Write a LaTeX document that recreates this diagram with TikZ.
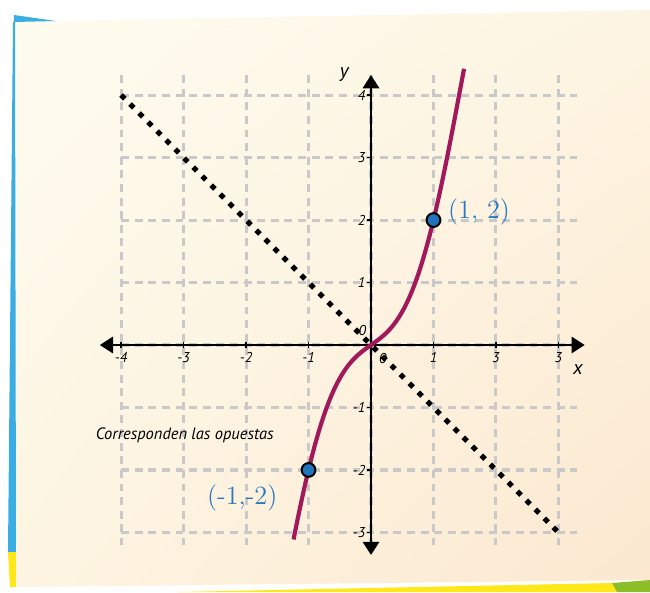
\documentclass[tikz,border=0pt]{standalone}
\usepackage{fontspec}
\setsansfont{PT Sans}
\usetikzlibrary{arrows.meta, shadings}

\definecolor{paperlight}{HTML}{FEFCF0}
\definecolor{papermid}{HTML}{FDF5E2}
\definecolor{paperdark}{HTML}{FCE8D0}
\definecolor{edgeblue}{HTML}{3AAEE2}
\definecolor{edgeyellow}{HTML}{FFE81A}
\definecolor{edgegreen}{HTML}{8DBE2A}
\definecolor{gridgray}{HTML}{C9C9C9}
\definecolor{curvered}{HTML}{A2195B}
\definecolor{pointblue}{HTML}{1F74BA}
\definecolor{labelblue}{HTML}{2A78C0}

\tikzset{
  grid line/.style={draw=gridgray, line width=1.4pt, dash pattern=on 3.6pt off 2.6pt},
  axis line/.style={line width=0.9pt, {Triangle[width=7.5pt,length=6pt]}-{Triangle[width=7.5pt,length=6pt]}},
  tick label/.style={font=\sffamily\itshape\fontsize{6.5}{7}\selectfont, inner sep=1pt},
  axis label/.style={font=\sffamily\itshape\fontsize{9}{10}\selectfont, inner sep=0pt},
  dot point/.style={circle, draw=black, fill=pointblue, line width=0.9pt, minimum size=0.22cm, inner sep=0pt},
  point label/.style={text=labelblue, font=\fontsize{12}{14}\selectfont, inner sep=0pt}
}

\begin{document}
\begin{tikzpicture}
    % Paper background (pixel coordinates)
    \begin{scope}[x=0.016cm, y=-0.016cm, shift={(-371,-345)}]
        \useasboundingbox (0,0) rectangle (650,592);
        \fill[white] (0,0) rectangle (650,592);
        \shade[upper left=paperlight, upper right=papermid, lower left=papermid, lower right=paperdark]
            (14,22) -- (56,21) -- (650,10) -- (650,580) -- (16,587) -- cycle;
        \fill[edgeblue] (14,15) -- (56,21) -- (14,22) -- cycle; % top corner
        \fill[edgeblue] (13,22) -- (15,22) -- (16,552) -- (8,552) -- cycle; % left strip
        \fill[edgeyellow] (8,552) -- (16,552) -- (16,587) -- (10,587) -- cycle;
        \fill[edgeyellow] (178,592) -- (612,583) -- (617,592) -- cycle; % bottom strip
        \fill[edgegreen] (612,583) -- (650,580) -- (650,592) -- (617,592) -- cycle;
    \end{scope}

    % Dashed grid
    \foreach \i in {-4,...,3} {
        \draw[grid line] (\i,4.32) -- (\i,-3.2);
    }
    \foreach \j in {-3,...,4} {
        \draw[grid line] (-4,\j) -- (3.3,\j);
    }

    % Axes
    \coordinate (xL) at (-4.34,0);
    \coordinate (xR) at (3.42,0);
    \coordinate (yB) at (0,-3.36);
    \coordinate (yT) at (0,4.32);
    \draw[axis line] (xL) -- (xR);
    \draw[axis line] (yB) -- (yT);

    % Ticks and labels
    \foreach \i/\t in {-4/-4,-3/-3,-2/-2,-1/-1,1/1,2/3,3/3} {
        \draw[line width=0.6pt] (\i,0.05) -- (\i,-0.05);
        \node[tick label, anchor=north] (xt\i) at (\i,-0.08) {\t};
    }
    \foreach \j in {-3,-2,-1,1,2,3,4} {
        \draw[line width=0.6pt] (-0.06,\j) -- (0,\j);
        \node[tick label, anchor=east] (yt\j) at (-0.05,\j) {\j};
    }
    \node[tick label] (x0) at (0.19,-0.22) {0};
    \node[tick label] (y0) at (-0.14,0.24) {0};
    \node[axis label] (xlab) at (3.31,-0.4) {x};
    \node[axis label] (ylab) at (-0.43,4.33) {y};

    % Opposite line y = -x
    \draw[line width=2.4pt, dash pattern=on 2.4pt off 3.4pt] (-4,4) -- (3,-3);

    % Odd curve through (1,2) and (-1,-2)
    \draw[curvered, line width=1.9pt, domain=-1.24:1.49, samples=90, smooth]
        plot (\x, {0.7*\x + 1.528*\x*\x*\x - 0.228*\x*\x*\x*\x*\x});

    % Points
    \node[dot point] (pA) at (1,2) {};
    \node[dot point] (pB) at (-1,-2) {};
    \node[point label] (lA) at (1.73,2.13) {$(1,\,2)$};
    \node[point label] (lB) at (-2.06,-2.45) {(-1,-2)};

    \node[font=\sffamily\itshape\fontsize{7.5}{9}\selectfont] (note) at (-2.98,-1.44) {Corresponden las opuestas};
\end{tikzpicture}
\end{document}
